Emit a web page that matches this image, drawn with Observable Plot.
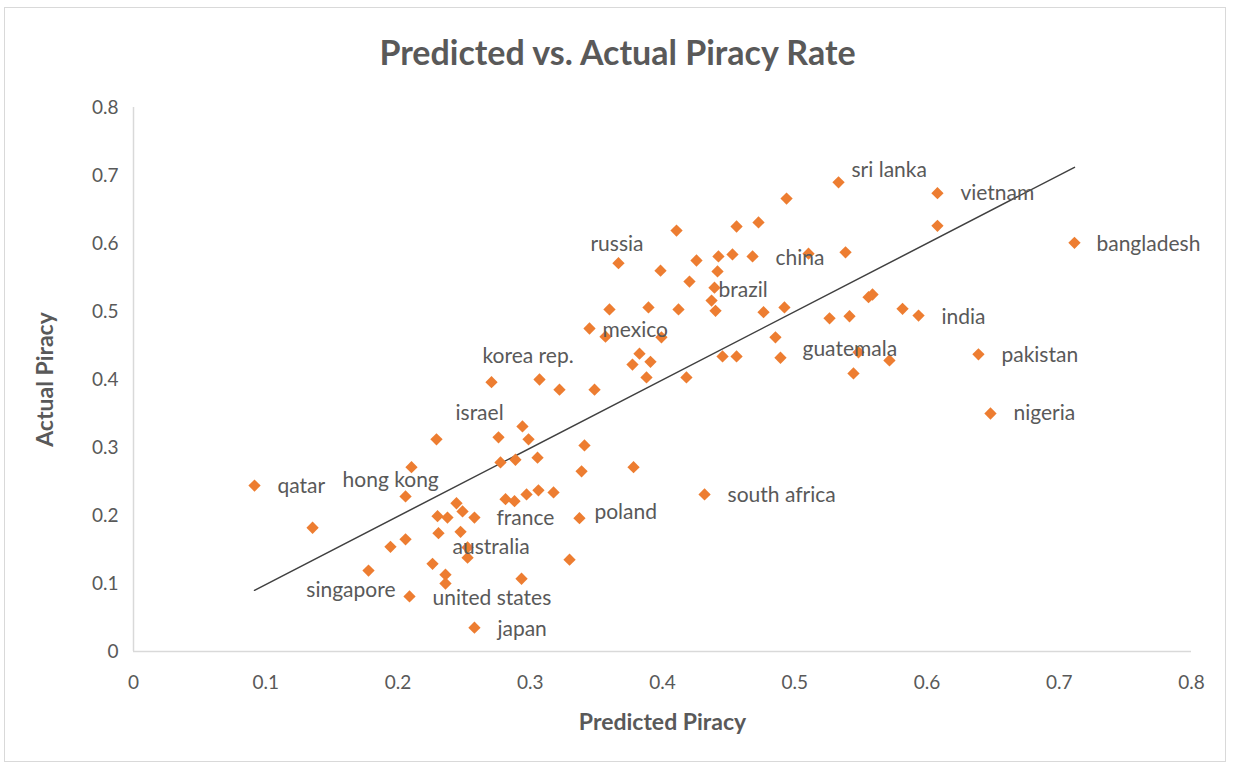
<!DOCTYPE html>
<html>
<head>
<meta charset="utf-8">
<script src="https://cdn.jsdelivr.net/npm/d3@7"></script>
<script src="https://cdn.jsdelivr.net/npm/@observablehq/plot@0.6"></script>
<style>
  html, body { margin: 0; padding: 0; background: #fff; }
  #frame { position: absolute; left: 4px; top: 7px; width: 1222px; height: 755px; border: 1px solid #d9d9d9; box-sizing: border-box; }
  #title { position: absolute; left: 0; top: 32px; width: 1235px; text-align: center; font-family: Lato, sans-serif; font-weight: bold; font-size: 34px; line-height: 40px; color: #595959; }
  #chart { position: absolute; left: 0; top: 90px; }
</style>
</head>
<body>
<div id="frame"></div>
<div id="title">Predicted vs. Actual Piracy Rate</div>
<div id="chart"></div>
<script>
// Data
const predicted = [
  0.0915, 0.1354, 0.1777, 0.1943, 0.2057, 0.2057, 0.2102, 0.2087, 0.2291, 0.2299,
  0.2374, 0.2442, 0.2488, 0.2578, 0.2306, 0.2473, 0.2261, 0.2359, 0.2359, 0.2526,
  0.2526, 0.2578, 0.2707, 0.2760, 0.2775, 0.2813, 0.2881, 0.2972, 0.3062, 0.3176,
  0.2934, 0.2941, 0.2987, 0.2888, 0.3055, 0.3070, 0.3221, 0.3486, 0.3410, 0.3388,
  0.3372, 0.3297, 0.3781, 0.4318, 0.3448, 0.3569, 0.3599, 0.3667, 0.3773, 0.3826,
  0.3909, 0.3879, 0.3894, 0.3992, 0.3985, 0.4106, 0.4121, 0.4181, 0.4204, 0.4257,
  0.4371, 0.4393, 0.4401, 0.4416, 0.4423, 0.4454, 0.4529, 0.4560, 0.4560, 0.4681,
  0.4726, 0.4764, 0.4854, 0.4892, 0.4922, 0.4938, 0.5104, 0.5263, 0.5331, 0.5384,
  0.5414, 0.5444, 0.5482, 0.5558, 0.5588, 0.5716, 0.5815, 0.5936, 0.6079, 0.6079,
  0.6389, 0.6480, 0.7115
];
const actual = [
  0.244, 0.182, 0.119, 0.154, 0.165, 0.228, 0.271, 0.081, 0.312, 0.199,
  0.197, 0.218, 0.206, 0.197, 0.174, 0.176, 0.129, 0.113, 0.100, 0.138,
  0.153, 0.035, 0.396, 0.315, 0.278, 0.224, 0.221, 0.231, 0.237, 0.234,
  0.107, 0.331, 0.312, 0.282, 0.285, 0.400, 0.385, 0.385, 0.303, 0.265,
  0.196, 0.135, 0.271, 0.231, 0.475, 0.463, 0.503, 0.571, 0.422, 0.438,
  0.426, 0.403, 0.506, 0.462, 0.560, 0.619, 0.503, 0.403, 0.544, 0.575,
  0.516, 0.535, 0.501, 0.559, 0.581, 0.434, 0.584, 0.625, 0.434, 0.581,
  0.631, 0.499, 0.462, 0.432, 0.506, 0.666, 0.585, 0.490, 0.690, 0.587,
  0.493, 0.409, 0.440, 0.521, 0.525, 0.428, 0.504, 0.494, 0.674, 0.626,
  0.437, 0.350, 0.601
];
// Labelled countries and the index of their point
const labelNames = ["qatar", "hong kong", "singapore", "united states", "japan", "australia",
  "france", "poland", "south africa", "israel", "korea rep.", "mexico", "russia", "brazil",
  "china", "sri lanka", "vietnam", "bangladesh", "india", "guatemala", "pakistan", "nigeria"];
const labelPoint = [0, 5, 7, 18, 21, 20, 13, 40, 43, 23, 22, 49, 47, 58, 76, 78, 88, 92, 87, 82, 90, 91];
// Linear trend line end points
const trendX = [0.0915, 0.7115];
const trendY = [0.090, 0.712];
// Axis ticks
const xTicks = [0, 0.1, 0.2, 0.3, 0.4, 0.5, 0.6, 0.7, 0.8];
const yTicks = [0, 0.1, 0.2, 0.3, 0.4, 0.5, 0.6, 0.7, 0.8];

// Label placement (styling, pixel offsets from each point)
const labelStyle = {
  "qatar": {dx: 23, dy: 1},
  "hong kong": {dx: -63, dy: -16},
  "singapore": {dx: -14, dy: -6, anchor: "end"},
  "united states": {dx: -13, dy: 15},
  "japan": {dx: 23, dy: 2},
  "australia": {dx: -15, dy: 0},
  "france": {dx: 22, dy: 1},
  "poland": {dx: 15, dy: -6},
  "south africa": {dx: 23, dy: 1},
  "israel": {dx: -43, dy: -24},
  "korea rep.": {dx: -9, dy: -26},
  "mexico": {dx: -37, dy: -23},
  "russia": {dx: -28, dy: -19},
  "brazil": {dx: 29, dy: 9},
  "china": {dx: -33, dy: 5},
  "sri lanka": {dx: 13, dy: -12},
  "vietnam": {dx: 23, dy: 0},
  "bangladesh": {dx: 22, dy: 1},
  "india": {dx: 23, dy: 2},
  "guatemala": {dx: -56, dy: -3},
  "pakistan": {dx: 23, dy: 1},
  "nigeria": {dx: 23, dy: 0}
};

const points = predicted.map((p, i) => ({x: p, y: actual[i]}));
const labels = labelNames.map((n, i) => ({name: n, x: predicted[labelPoint[i]], y: actual[labelPoint[i]]}));
const trend = trendX.map((x, i) => ({x, y: trendY[i]}));

const diamond = {
  draw(ctx, size) {
    const s = Math.sqrt(size / 2);
    ctx.moveTo(0, -s); ctx.lineTo(s, 0); ctx.lineTo(0, s); ctx.lineTo(-s, 0); ctx.closePath();
  }
};

const textColor = "#595959";

const chart = Plot.plot({
  width: 1235,
  height: 678,
  marginLeft: 133,
  marginRight: 44,
  marginTop: 17,
  marginBottom: 117,
  style: {fontFamily: "Lato, sans-serif", fontSize: "19px", color: textColor, background: "transparent"},
  x: {domain: [0, 0.8]},
  y: {domain: [0, 0.8]},
  marks: [
    Plot.ruleY([0], {stroke: "#d9d9d9", strokeWidth: 1.5}),
    Plot.ruleX([0], {stroke: "#d9d9d9", strokeWidth: 1.5}),
    Plot.axisX({ticks: xTicks, tickSize: 0, tickPadding: 24, label: null, tickFormat: d => String(d), fontSize: 19}),
    Plot.axisY({ticks: yTicks, tickSize: 0, tickPadding: 15, label: null, tickFormat: d => String(d), fontSize: 19}),
    Plot.text(["Predicted Piracy"], {frameAnchor: "bottom", dy: 71, textAnchor: "middle", lineAnchor: "middle", fontWeight: "bold", fontSize: 23, fill: textColor}),
    Plot.text(["Actual Piracy"], {frameAnchor: "left", dx: -88, rotate: -90, textAnchor: "middle", lineAnchor: "middle", fontWeight: "bold", fontSize: 23, fill: textColor}),
    Plot.line(trend, {x: "x", y: "y", stroke: "#404040", strokeWidth: 1.5}),
    Plot.dot(points, {x: "x", y: "y", symbol: diamond, r: 4.9, fill: "#ED7D31", stroke: "none"}),
    ...labels.map(l => {
      const s = labelStyle[l.name];
      return Plot.text([l], {x: "x", y: "y", text: "name", dx: s.dx, dy: s.dy,
        textAnchor: s.anchor || "start", lineAnchor: "middle", fill: textColor, fontSize: 21});
    })
  ]
});
document.getElementById("chart").appendChild(chart);
</script>
</body>
</html>
